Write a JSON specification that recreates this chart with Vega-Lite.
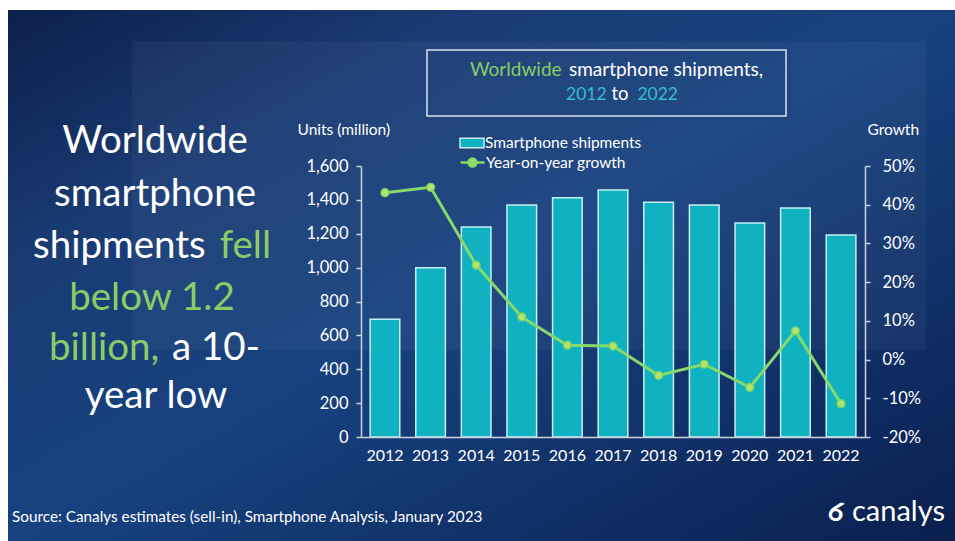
{
  "$schema": "https://vega.github.io/schema/vega-lite/v6.json",
  "width": 504,
  "height": 271,
  "autosize": {"type": "none"},
  "padding": {"left": 361, "top": 166, "right": 90, "bottom": 104},
  "background": "white",
  "config": {
    "view": {"stroke": null},
    "font": "Lato",
    "axis": {"zindex": 1, "labelFont": "Lato", "titleFont": "Lato", "labelColor": "#ffffff", "titleColor": "#ffffff", "domainColor": "#c9d3e2", "tickColor": "#c9d3e2", "grid": false, "labelFontSize": 16.5, "titleFontSize": 15.5, "titleFontWeight": "normal", "domainWidth": 1.5, "tickWidth": 1.5},
    "legend": {"zindex": 1, "labelFont": "Lato", "labelColor": "#ffffff", "labelFontSize": 15.5, "orient": "none", "padding": 0}
  },
  "data": {"values": [
    {"year": "2012", "shipments": 695, "growth": 43.1},
    {"year": "2013", "shipments": 1000, "growth": 44.5},
    {"year": "2014", "shipments": 1240, "growth": 24.4},
    {"year": "2015", "shipments": 1370, "growth": 11.0},
    {"year": "2016", "shipments": 1413, "growth": 3.7},
    {"year": "2017", "shipments": 1458, "growth": 3.5},
    {"year": "2018", "shipments": 1386, "growth": -4.1},
    {"year": "2019", "shipments": 1370, "growth": -1.2},
    {"year": "2020", "shipments": 1263, "growth": -7.2},
    {"year": "2021", "shipments": 1352, "growth": 7.4},
    {"year": "2022", "shipments": 1193, "growth": -11.4}
  ]},
  "layer": [
    {
      "data": {"values": [{}]},
      "mark": {"type": "rect", "color": {"gradient": "linear", "x1": 0, "y1": 0, "x2": 1, "y2": 1, "stops": [{"offset": 0, "color": "#0c1f4c"}, {"offset": 0.25, "color": "#1a3c74"}, {"offset": 0.5, "color": "#17427f"}, {"offset": 0.8, "color": "#0f2d63"}, {"offset": 1, "color": "#0a1f4e"}]}},
      "encoding": {"x": {"value": -353}, "x2": {"value": 594}, "y": {"value": -156}, "y2": {"value": 375}}
    },
    {
      "data": {"values": [{}]},
      "mark": {"type": "rect", "color": "#ffffff", "opacity": 0.04},
      "encoding": {"x": {"value": -229}, "x2": {"value": 565}, "y": {"value": -125}, "y2": {"value": 184}}
    },
    {
      "data": {"values": [{}]},
      "mark": {"type": "rect", "fill": "#ffffff", "fillOpacity": 0, "stroke": "#d9e1ec", "strokeWidth": 1.5},
      "encoding": {"x": {"value": 66}, "x2": {"value": 425}, "y": {"value": -116}, "y2": {"value": -50}}
    },
    {
      "data": {"values": [{"t": "Worldwide"}]},
      "mark": {"type": "text", "align": "left", "baseline": "alphabetic", "fontSize": 19, "color": "#8ccc66"},
      "encoding": {"text": {"field": "t"}, "x": {"value": 109}, "y": {"value": -90}}
    },
    {
      "data": {"values": [{"t": "smartphone shipments,"}]},
      "mark": {"type": "text", "align": "right", "baseline": "alphabetic", "fontSize": 19, "color": "#ffffff"},
      "encoding": {"text": {"field": "t"}, "x": {"value": 402}, "y": {"value": -90}}
    },
    {
      "data": {"values": [{"t": "2012"}]},
      "mark": {"type": "text", "align": "left", "baseline": "alphabetic", "fontSize": 17.5, "color": "#36bccd"},
      "encoding": {"text": {"field": "t"}, "x": {"value": 205}, "y": {"value": -66}}
    },
    {
      "data": {"values": [{"t": "to"}]},
      "mark": {"type": "text", "align": "center", "baseline": "alphabetic", "fontSize": 18.5, "color": "#ffffff"},
      "encoding": {"text": {"field": "t"}, "x": {"value": 259}, "y": {"value": -66}}
    },
    {
      "data": {"values": [{"t": "2022"}]},
      "mark": {"type": "text", "align": "right", "baseline": "alphabetic", "fontSize": 17.5, "color": "#36bccd"},
      "encoding": {"text": {"field": "t"}, "x": {"value": 317}, "y": {"value": -66}}
    },
    {
      "data": {"values": [{"t": "Worldwide"}]},
      "mark": {"type": "text", "align": "center", "baseline": "alphabetic", "fontSize": 38.5, "color": "#ffffff"},
      "encoding": {"text": {"field": "t"}, "x": {"value": -206}, "y": {"value": -13}}
    },
    {
      "data": {"values": [{"t": "smartphone"}]},
      "mark": {"type": "text", "align": "center", "baseline": "alphabetic", "fontSize": 38.5, "color": "#ffffff"},
      "encoding": {"text": {"field": "t"}, "x": {"value": -206}, "y": {"value": 39.5}}
    },
    {
      "data": {"values": [{"t": "shipments"}]},
      "mark": {"type": "text", "align": "left", "baseline": "alphabetic", "fontSize": 38.5, "color": "#ffffff"},
      "encoding": {"text": {"field": "t"}, "x": {"value": -328}, "y": {"value": 92}}
    },
    {
      "data": {"values": [{"t": "fell"}]},
      "mark": {"type": "text", "align": "right", "baseline": "alphabetic", "fontSize": 38.5, "color": "#8ccc66"},
      "encoding": {"text": {"field": "t"}, "x": {"value": -90}, "y": {"value": 92}}
    },
    {
      "data": {"values": [{"t": "below 1.2"}]},
      "mark": {"type": "text", "align": "center", "baseline": "alphabetic", "fontSize": 38.5, "color": "#8ccc66"},
      "encoding": {"text": {"field": "t"}, "x": {"value": -209}, "y": {"value": 143.5}}
    },
    {
      "data": {"values": [{"t": "billion,"}]},
      "mark": {"type": "text", "align": "left", "baseline": "alphabetic", "fontSize": 38.5, "color": "#8ccc66"},
      "encoding": {"text": {"field": "t"}, "x": {"value": -312}, "y": {"value": 194}}
    },
    {
      "data": {"values": [{"t": "a 10-"}]},
      "mark": {"type": "text", "align": "right", "baseline": "alphabetic", "fontSize": 38.5, "color": "#ffffff"},
      "encoding": {"text": {"field": "t"}, "x": {"value": -101}, "y": {"value": 194}}
    },
    {
      "data": {"values": [{"t": "year low"}]},
      "mark": {"type": "text", "align": "center", "baseline": "alphabetic", "fontSize": 38.5, "color": "#ffffff"},
      "encoding": {"text": {"field": "t"}, "x": {"value": -205}, "y": {"value": 242}}
    },
    {
      "data": {"values": [{"t": "Source: Canalys estimates (sell-in), Smartphone Analysis, January 2023"}]},
      "mark": {"type": "text", "align": "left", "baseline": "middle", "fontSize": 15.3, "color": "#ffffff"},
      "encoding": {"text": {"field": "t"}, "x": {"value": -349}, "y": {"value": 351}}
    },
    {
      "data": {"values": [{"t": "6"}]},
      "mark": {"type": "text", "align": "center", "baseline": "middle", "fontSize": 27, "fontWeight": "bold", "angle": 20, "color": "#ffffff"},
      "encoding": {"text": {"field": "t"}, "x": {"value": 475}, "y": {"value": 347}}
    },
    {
      "data": {"values": [{"t": "canalys"}]},
      "mark": {"type": "text", "align": "left", "baseline": "middle", "fontSize": 29, "color": "#ffffff"},
      "encoding": {"text": {"field": "t"}, "x": {"value": 491}, "y": {"value": 346}}
    },
    {
      "mark": {"type": "bar", "stroke": "#c4eef4", "strokeWidth": 1.5},
      "encoding": {
        "x": {"field": "year", "type": "ordinal", "scale": {"paddingInner": 0.35, "paddingOuter": 0.2},
              "axis": {"zindex": 2, "title": null, "labelAngle": 0, "ticks": false, "labelPadding": 10, "labelFontSize": 16}},
        "y": {"field": "shipments", "type": "quantitative", "scale": {"domain": [0, 1600], "nice": false},
              "axis": {"zindex": 2, "title": "Units (million)", "values": [0, 200, 400, 600, 800, 1000, 1200, 1400, 1600], "labelExpr": "format(datum.value, ',.0f')", "tickSize": 5, "labelPadding": 8, "titleAngle": 0, "titleX": -64, "titleY": -37, "titleAlign": "left", "titleBaseline": "middle"}},
        "fill": {"datum": "Smartphone shipments", "scale": {"range": ["#10b2c2"]},
                 "legend": {"title": null, "legendX": 98, "legendY": -36, "symbolType": "M-1,-0.4H1V0.4H-1Z", "symbolSize": 576, "symbolStrokeColor": "#c4eef4", "symbolStrokeWidth": 1.5, "labelOffset": 0, "symbolOpacity": 1}}
      }
    },
    {
      "mark": {"type": "line", "strokeWidth": 3},
      "encoding": {
        "x": {"field": "year", "type": "ordinal"},
        "y": {"field": "growth", "type": "quantitative", "scale": {"domain": [-20, 50], "nice": false},
              "axis": {"zindex": 2, "orient": "right", "title": "Growth", "values": [-20, -10, 0, 10, 20, 30, 40, 50], "labelExpr": "datum.value + '%'", "tickSize": 5, "labelPadding": 12, "titleAngle": 0, "titleX": 2, "titleY": -37, "titleAlign": "left", "titleBaseline": "middle"}},
        "stroke": {"datum": "Year-on-year growth", "scale": {"range": ["#86d96a"]},
                   "legend": {"title": null, "legendX": 98, "legendY": -17, "symbolType": "M-1,0H1M0.33,0A0.33,0.33,0,1,1,-0.33,0A0.33,0.33,0,1,1,0.33,0Z", "symbolSize": 576, "symbolStrokeWidth": 2.5, "symbolFillColor": "#a6e06c", "labelOffset": 0}}
      }
    },
    {
      "mark": {"type": "point", "filled": true, "fill": "#b4e46e", "stroke": "#78d468", "strokeWidth": 1.5, "size": 60, "opacity": 1},
      "encoding": {
        "x": {"field": "year", "type": "ordinal"},
        "y": {"field": "growth", "type": "quantitative", "scale": {"domain": [-20, 50], "nice": false}, "axis": null}
      }
    }
  ],
  "resolve": {"scale": {"y": "independent"}}
}
